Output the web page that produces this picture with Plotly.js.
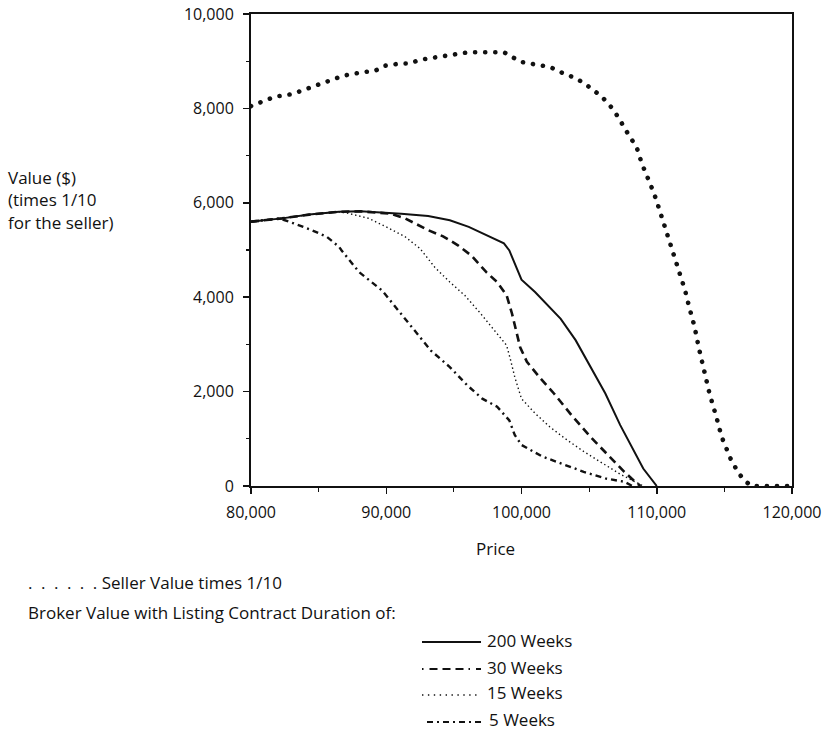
<!DOCTYPE html>
<html>
<head>
<meta charset="utf-8">
<script src="https://cdn.plot.ly/plotly-3.0.1.min.js"></script>
<style>
  html, body { margin: 0; padding: 0; background: #fff; }
  #chart { width: 822px; height: 733px; }
  /* round caps turn the short dashes of the seller curve into dots */
  .scatterlayer .trace:first-child .js-line { stroke-linecap: round; }
</style>
</head>
<body>
<div id="chart"></div>
<script>
// Seller value (shown at 1/10 scale) against asking price
const sellerPrice = [80000, 80400, 81800, 83000, 84200, 85500, 86800, 88100, 88800, 89200, 89800, 91000, 91700, 92500, 93600, 95000, 96100, 97500, 98700, 99200, 99900, 101000, 102100, 102800, 104000, 104700, 105300, 105800, 106300, 106800, 107200, 107600, 108000, 108500, 108900, 109400, 109800, 110200, 110600, 111100, 111600, 112100, 112400, 112800, 113100, 113500, 113900, 114400, 114800, 115500, 116100, 116600, 117000, 120000];
const sellerValue = [8050, 8100, 8250, 8300, 8420, 8560, 8690, 8760, 8780, 8800, 8900, 8950, 8950, 9030, 9080, 9130, 9190, 9190, 9190, 9110, 8990, 8930, 8880, 8780, 8640, 8520, 8400, 8280, 8140, 7970, 7790, 7580, 7400, 7190, 6830, 6480, 6200, 5850, 5490, 5050, 4560, 4140, 3790, 3370, 2940, 2450, 1960, 1470, 1040, 550, 250, 90, 0, 0];

// Broker value, 200-week listing contract
const w200Price = [80000, 82300, 84300, 86500, 88100, 89800, 91100, 93100, 94700, 96100, 97500, 98700, 99100, 100000, 101000, 102100, 102900, 104000, 105100, 106200, 107300, 108300, 109000, 110000];
const w200Value = [5600, 5670, 5750, 5810, 5820, 5800, 5770, 5720, 5630, 5490, 5310, 5140, 4990, 4370, 4110, 3790, 3540, 3090, 2520, 1960, 1290, 760, 370, 0];

// Broker value, 30-week listing contract
const w30Price = [80000, 82300, 84300, 86500, 88100, 90300, 91400, 93100, 94200, 95300, 96300, 97400, 98200, 98900, 99300, 99900, 100400, 101400, 102400, 103700, 105100, 106500, 107600, 108400, 108800];
const w30Value = [5600, 5670, 5750, 5810, 5820, 5770, 5670, 5420, 5290, 5100, 4880, 4530, 4320, 4040, 3650, 2940, 2630, 2280, 1960, 1500, 1040, 620, 300, 90, 0];

// Broker value, 15-week listing contract
const w15Price = [80000, 82300, 84300, 86500, 87300, 88700, 90000, 91400, 92500, 93600, 94700, 95800, 96900, 98000, 98900, 99200, 99500, 100000, 101000, 102100, 103200, 104600, 106000, 107300, 108400, 109000];
const w15Value = [5600, 5670, 5750, 5810, 5770, 5670, 5490, 5280, 5030, 4630, 4320, 4040, 3680, 3300, 2980, 2660, 2310, 1850, 1540, 1250, 1010, 730, 480, 250, 90, 0];

// Broker value, 5-week listing contract
const w5Price = [80000, 82100, 83200, 84500, 85600, 86500, 86700, 88000, 89700, 90500, 91900, 93300, 94700, 96000, 97100, 98200, 99100, 99500, 100000, 101500, 102900, 104600, 106200, 107600, 108200];
const w5Value = [5600, 5670, 5560, 5420, 5280, 5070, 4990, 4530, 4140, 3860, 3370, 2870, 2520, 2130, 1850, 1680, 1390, 1080, 870, 630, 480, 300, 160, 90, 0];

const xTicks = [80000, 90000, 100000, 110000, 120000];
const yTicks = [0, 2000, 4000, 6000, 8000, 10000];

const FONT = '"Open Sans", Lato, sans-serif';
const TEXT_SIZE = 17;
const TICK_SIZE = 16;

// Dash patterns for each curve
const styles = {
  seller: { color: '#111', width: 4.6, dash: '0.1px,10px' },
  w200:   { color: '#111', width: 2, dash: 'solid' },
  w30:    { color: '#111', width: 2.6, dash: '8px,5px' },
  w15:    { color: '#111', width: 1.4, dash: '1.4px,2.8px' },
  w5:     { color: '#111', width: 2.4, dash: '6px,4px,2px,4px' }
};

const traces = [
  { x: sellerPrice, y: sellerValue, name: 'Seller Value times 1/10', line: styles.seller },
  { x: w5Price,  y: w5Value,  name: '5 Weeks',   line: styles.w5 },
  { x: w15Price, y: w15Value, name: '15 Weeks',  line: styles.w15 },
  { x: w30Price, y: w30Value, name: '30 Weeks',  line: styles.w30 },
  { x: w200Price, y: w200Value, name: '200 Weeks', line: styles.w200 }
].map(t => Object.assign({ type: 'scatter', mode: 'lines', hoverinfo: 'skip' }, t));

// Plot frame in pixels: left 251, right 792, top 14, bottom 486
const L = 251, R = 792, T = 14, B = 486;
const px = v => (v - L) / (R - L);
const py = v => (B - v) / (B - T);

const textAnn = (x, y, text, anchor) => ({
  xref: 'paper', yref: 'paper', x: px(x), y: py(y),
  xanchor: anchor || 'left', yanchor: 'middle',
  text: text, showarrow: false,
  font: { family: FONT, size: TEXT_SIZE, color: '#111' }
});

const annotations = [
  textAnn(6, 178, 'Value ($)'),
  textAnn(6, 200, '(times 1/10'),
  textAnn(6, 222, 'for the seller)'),
  textAnn(495, 548, 'Price', 'center'),
  textAnn(26, 582, '.\u2002.\u2002.\u2002.\u2002.\u2002.\u00a0Seller Value times 1/10'),
  textAnn(26, 612, 'Broker Value with Listing Contract Duration of:'),
  textAnn(485, 640, '200 Weeks'),
  textAnn(485, 667, '30 Weeks'),
  textAnn(485, 692, '15 Weeks'),
  textAnn(487, 719, '5 Weeks')
];

// Key samples for the four broker curves
const keyLine = (y, x0, line) => ({
  type: 'line', xref: 'paper', yref: 'paper',
  x0: px(x0), x1: px(481), y0: py(y), y1: py(y),
  line: { color: line.color, width: Math.min(line.width, 2), dash: line.dash }
});

const shapes = [
  keyLine(642, 422, styles.w200),
  keyLine(669, 422, { color: '#111', width: 2, dash: '1.5px,6px,8px,5px,8px,5px,8px,5px' }),
  keyLine(695, 422, { color: '#111', width: 1.4, dash: '1.4px,4.5px' }),
  keyLine(722, 427, styles.w5)
];

const axisCommon = {
  showline: true, linecolor: '#111', linewidth: 2, mirror: true,
  showgrid: false, zeroline: false,
  ticks: 'outside', ticklen: 6, tickwidth: 1.5, tickcolor: '#111',
  tickfont: { family: FONT, size: TICK_SIZE, color: '#111' },
  tickformat: ',d', ticklabeloverflow: 'allow'
};

const layout = {
  width: 822, height: 733,
  margin: { l: L, r: 822 - R, t: T, b: 733 - B, pad: 0 },
  paper_bgcolor: '#fff', plot_bgcolor: '#fff',
  showlegend: false,
  xaxis: Object.assign({}, axisCommon, {
    range: [80000, 120000], tickvals: xTicks, ticklabelstandoff: 5,
    minor: { dtick: 5000, ticks: 'outside', ticklen: 4, tickwidth: 1.2, tickcolor: '#111' }
  }),
  yaxis: Object.assign({}, axisCommon, {
    range: [0, 10000], tickvals: yTicks, ticklabelstandoff: 6,
    minor: { dtick: 1000, ticks: 'outside', ticklen: 3, tickwidth: 1.2, tickcolor: '#111' }
  }),
  annotations: annotations,
  shapes: shapes
};

Plotly.newPlot('chart', traces, layout, { staticPlot: true, displayModeBar: false });
</script>
</body>
</html>
